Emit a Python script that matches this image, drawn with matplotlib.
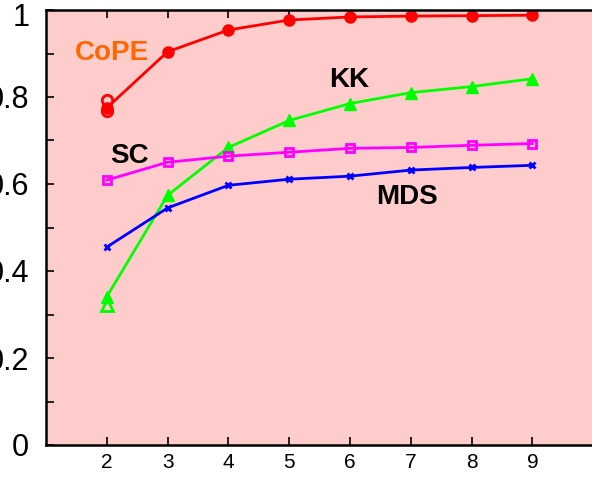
import matplotlib
matplotlib.use("Agg")
import matplotlib.pyplot as plt
from matplotlib.transforms import ScaledTranslation
import numpy as np

plt.rcParams['font.family'] = ['Liberation Sans', 'DejaVu Sans']

# dimensions on the x axis
dims = [2, 3, 4, 5, 6, 7, 8, 9]

# score of each method
cope = [0.775, 0.904, 0.954, 0.977, 0.984, 0.986, 0.987, 0.988]
kk = [0.341, 0.574, 0.684, 0.746, 0.785, 0.810, 0.824, 0.842]
sc = [0.609, 0.650, 0.664, 0.673, 0.682, 0.684, 0.689, 0.693]
mds = [0.455, 0.545, 0.597, 0.611, 0.618, 0.632, 0.638, 0.643]

# extra overlapping runs at the first point
cope_extra = [0.792, 0.768]
kk_extra = [0.322]

fig = plt.figure(figsize=(5.92, 4.79), dpi=100)
ax = fig.add_axes([46 / 592, 1 - 445 / 479, 1.0 - 46 / 592 + 0.002, 435 / 479])
ax.set_facecolor('#FFCCCC')

ax.plot(dims, cope, color='#FF0000', lw=2, marker='o', ms=7.5, mfc='#FF0000', mew=1.5)
ax.plot([2, 2], cope_extra, ls='none', color='#FF0000', marker='o', ms=7.5, mfc='none', mew=2)
ax.plot(dims, kk, color='#00FF00', lw=2, marker='^', ms=9, mfc='#00FF00')
ax.plot([2], kk_extra, ls='none', color='#00FF00', marker='^', ms=8, mfc='none', mew=2)
ax.plot(dims, sc, color='#FF00FF', lw=2, marker='s', ms=6, mfc='none', mew=2)
ax.plot(dims, mds, color='#0000FF', lw=2, marker='x', ms=5, mew=2)

ax.text(2.09, 0.90, 'CoPE', color='#FF6600', fontsize=20, fontweight='bold', ha='center', va='center')
ax.text(5.98, 0.84, 'KK', color='black', fontsize=20, fontweight='bold', ha='center', va='center')
ax.text(2.37, 0.664, 'SC', color='black', fontsize=20, fontweight='bold', ha='center', va='center')
ax.text(6.93, 0.57, 'MDS', color='black', fontsize=20, fontweight='bold', ha='center', va='center')

ax.set_xlim(1, 10)
ax.set_ylim(0, 1)
ax.set_xticks(dims)
ax.set_yticks(np.arange(0, 1.01, 0.1))
ax.set_yticklabels(['0', '', '0.2', '', '0.4', '', '0.6', '', '0.8', '', '1'])
ax.tick_params(axis='x', direction='in', length=6, width=1.2, labelsize=15, pad=6, top=True)
ax.tick_params(axis='y', direction='in', length=6, width=1.2, labelsize=22, pad=12)
for side in ['left', 'bottom', 'top']:
    ax.spines[side].set_linewidth(1.8)
ax.spines['right'].set_visible(False)

# top label sits a bit lower so it stays inside the figure
top_label = ax.get_yticklabels()[-1]
top_label.set_transform(top_label.get_transform() + ScaledTranslation(0, -5 / 100, fig.dpi_scale_trans))

fig.savefig('out.png', dpi=100)
